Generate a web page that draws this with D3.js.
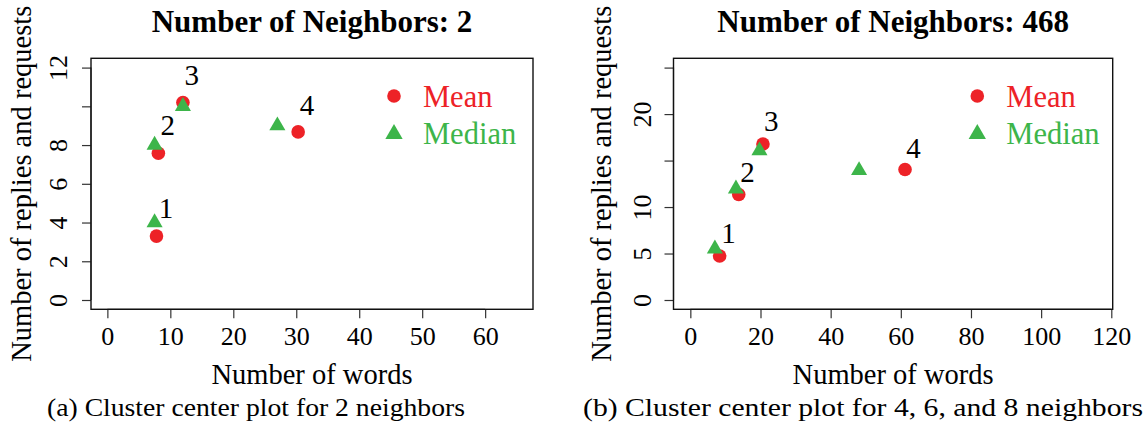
<!DOCTYPE html>
<html>
<head>
<meta charset="utf-8">
<script src="https://cdn.jsdelivr.net/npm/d3@7"></script>
<style>
  html, body { margin: 0; padding: 0; background: #fff; }
  svg { display: block; }
  svg text { font-family: "Liberation Serif", "Times New Roman", Times, "DejaVu Serif", serif !important; }
</style>
</head>
<body>
<svg id="chart" width="1145" height="432"></svg>
<script>
// ---------------- DATA ----------------
const clusters = ["1", "2", "3", "4"];

// Panel (a): 2 neighbors
const titleA = "Number of Neighbors: 2";
const captionA = "(a) Cluster center plot for 2 neighbors";
const meanWordsA = [7.8, 8.1, 12.0, 30.3];
const meanRepliesA = [3.3, 7.58, 10.2, 8.68];
const medianWordsA = [7.5, 7.5, 12.0, 27.0];
const medianRepliesA = [4.0, 8.0, 10.0, 9.0];
const labelWordsA = [9.3, 9.6, 13.4, 31.7];
const labelRepliesA = [4.75, 9.04, 11.6, 10.07];
const xTicksA = [0, 10, 20, 30, 40, 50, 60];
const yTicksA = [0, 2, 4, 6, 8, 10, 12];
const yTickLabelsA = ["0", "2", "4", "6", "8", "", "12"];

// Panel (b): 468 neighbors
const titleB = "Number of Neighbors: 468";
const captionB = "(b) Cluster center plot for 4, 6, and 8 neighbors";
const meanWordsB = [8.35, 13.8, 20.7, 61.2];
const meanRepliesB = [4.74, 11.35, 16.78, 14.04];
const medianWordsB = [7.0, 13.0, 19.7, 48.1];
const medianRepliesB = [5.5, 11.96, 16.06, 13.94];
const labelWordsB = [10.9, 16.3, 23.1, 63.6];
const labelRepliesB = [7.19, 13.8, 19.2, 16.3];
const xTicksB = [0, 20, 40, 60, 80, 100, 120];
const yTicksB = [0, 5, 10, 15, 20, 25];
const yTickLabelsB = ["0", "5", "10", "", "20", ""];

const legendLabels = ["Mean", "Median"];
const xLabel = "Number of words";
const yLabel = "Number of replies and requests";

// ---------------- STYLE ----------------
const RED = "#ED2227";
const GREEN = "#3DB54A";
const FONT = "Liberation Serif, Times New Roman, DejaVu Serif, serif";

const svg = d3.select("#chart");

function panel(cfg) {
  const g = svg.append("g").attr("font-family", FONT);
  const x = d3.scaleLinear().domain(cfg.xDomain).range([cfg.left, cfg.right]);
  const y = d3.scaleLinear().domain(cfg.yDomain).range([cfg.bottom, cfg.top]);

  // title
  g.append("text")
    .attr("x", (cfg.left + cfg.right) / 2).attr("y", 32)
    .attr("text-anchor", "middle")
    .attr("font-size", 31).attr("font-weight", "bold")
    .attr("fill", "#000")
    .text(cfg.title);

  // x axis
  const xAxis = d3.axisBottom(x).tickValues(cfg.xTicks).tickSize(9).tickPadding(5)
    .tickFormat(d3.format("d"));
  const xg = g.append("g").attr("transform", `translate(0,${cfg.bottom})`).call(xAxis)
    .attr("font-family", FONT);
  xg.select(".domain").attr("d", `M${x(cfg.xTicks[0])},0H${x(cfg.xTicks[cfg.xTicks.length - 1])}`)
    .attr("stroke", "#333").attr("stroke-width", 1.2);
  xg.selectAll(".tick line").attr("stroke", "#333").attr("stroke-width", 1.2);
  xg.selectAll(".tick text")
    .attr("font-size", 26).attr("fill", "#000")
    .attr("dy", null).attr("y", 36);

  // y axis
  const yAxis = d3.axisLeft(y).tickValues(cfg.yTicks).tickSize(9)
    .tickFormat((d, i) => cfg.yTickLabels[i]);
  const yg = g.append("g").attr("transform", `translate(${cfg.left},0)`).call(yAxis)
    .attr("font-family", FONT);
  yg.select(".domain").attr("d", `M0,${y(cfg.yTicks[0])}V${y(cfg.yTicks[cfg.yTicks.length - 1])}`)
    .attr("stroke", "#333").attr("stroke-width", 1.2);
  yg.selectAll(".tick line").attr("stroke", "#333").attr("stroke-width", 1.2);
  yg.selectAll(".tick text")
    .attr("font-size", 26).attr("fill", "#000")
    .attr("x", null).attr("dy", null)
    .attr("text-anchor", "middle")
    .attr("transform", `translate(${cfg.yTickBase - cfg.left},0) rotate(-90)`);

  // box
  g.append("rect")
    .attr("x", cfg.left).attr("y", cfg.top)
    .attr("width", cfg.right - cfg.left).attr("height", cfg.bottom - cfg.top)
    .attr("fill", "none").attr("stroke", "#111").attr("stroke-width", 1.4);

  // axis titles
  g.append("text")
    .attr("x", (cfg.left + cfg.right) / 2).attr("y", 384)
    .attr("text-anchor", "middle").attr("font-size", 28.5).attr("fill", "#000")
    .text(xLabel);
  g.append("text")
    .attr("transform", `translate(${cfg.yTitleBase},${(cfg.top + cfg.bottom) / 2}) rotate(-90)`)
    .attr("text-anchor", "middle").attr("font-size", 28.5).attr("fill", "#000")
    .text(yLabel);

  // means (circles)
  g.selectAll(".mean").data(cfg.meanX).enter().append("circle")
    .attr("cx", d => x(d)).attr("cy", (d, i) => y(cfg.meanY[i]))
    .attr("r", 6.8).attr("fill", RED);

  // medians (triangles)
  const tri = d3.symbol().type(d3.symbolTriangle).size(112);
  g.selectAll(".median").data(cfg.medX).enter().append("path")
    .attr("d", tri)
    .attr("transform", (d, i) => `translate(${x(d)},${y(cfg.medY[i])})`)
    .attr("fill", GREEN);

  // cluster labels
  g.selectAll(".clab").data(clusters).enter().append("text")
    .attr("x", (d, i) => x(cfg.labX[i])).attr("y", (d, i) => y(cfg.labY[i]))
    .attr("dy", "0.34em")
    .attr("text-anchor", "middle").attr("font-size", 29).attr("fill", "#000")
    .text(d => d);

  // legend
  const lg = g.append("g");
  lg.append("circle").attr("cx", cfg.legX).attr("cy", 96).attr("r", 6.8).attr("fill", RED);
  lg.append("path").attr("d", d3.symbol().type(d3.symbolTriangle).size(130))
    .attr("transform", `translate(${cfg.legX},${134})`).attr("fill", GREEN);
  lg.append("text").attr("x", cfg.legX + 29).attr("y", 107).attr("font-size", 30.5)
    .attr("fill", RED).text(legendLabels[0]);
  lg.append("text").attr("x", cfg.legX + 29).attr("y", 144).attr("font-size", 30.5)
    .attr("fill", GREEN).text(legendLabels[1]);

  // caption
  g.append("text")
    .attr("x", cfg.capX).attr("y", 416)
    .attr("text-anchor", "middle").attr("font-size", 25).attr("fill", "#000")
    .attr("textLength", cfg.capLen).attr("lengthAdjust", "spacingAndGlyphs")
    .text(cfg.caption);
}

panel({
  title: titleA, caption: captionA,
  left: 91, right: 533, top: 58.3, bottom: 309.3,
  xDomain: [-2.6, 67.6], yDomain: [-0.48, 12.48],
  xTicks: xTicksA, yTicks: yTicksA, yTickLabels: yTickLabelsA,
  meanX: meanWordsA, meanY: meanRepliesA,
  medX: medianWordsA, medY: medianRepliesA,
  labX: labelWordsA, labY: labelRepliesA,
  yTickBase: 67, yTitleBase: 31,
  legX: 394, capX: 256, capLen: 418
});

panel({
  title: titleB, caption: captionB,
  left: 673.5, right: 1112.7, top: 58.3, bottom: 309.3,
  xDomain: [-4.8, 120.4], yDomain: [-1, 26],
  xTicks: xTicksB, yTicks: yTicksB, yTickLabels: yTickLabelsB,
  meanX: meanWordsB, meanY: meanRepliesB,
  medX: medianWordsB, medY: medianRepliesB,
  labX: labelWordsB, labY: labelRepliesB,
  yTickBase: 651, yTitleBase: 611,
  legX: 977.3, capX: 863, capLen: 560
});
</script>
</body>
</html>
